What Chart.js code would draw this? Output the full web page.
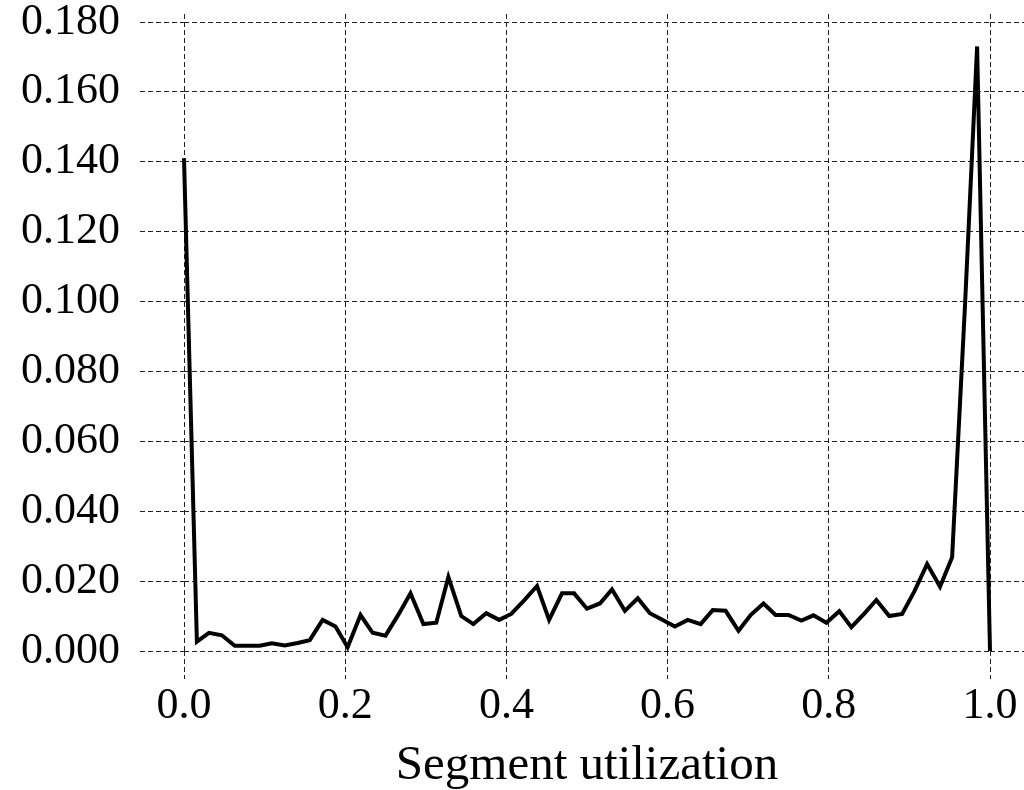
<!DOCTYPE html>
<html>
<head>
<meta charset="utf-8">
<script src="https://cdn.jsdelivr.net/npm/chart.js@4/dist/chart.umd.min.js"></script>
<style>
  html, body { margin: 0; padding: 0; background: #fff; }
  #wrap { width: 1024px; height: 790px; }
</style>
</head>
<body>
<div id="wrap"><canvas id="c" width="1024" height="790"></canvas></div>
<script>
// Bin positions (segment utilization)
const xValues = [
  0.000, 0.016, 0.031, 0.047, 0.063, 0.078, 0.094, 0.109, 0.125, 0.141,
  0.156, 0.172, 0.188, 0.203, 0.219, 0.234, 0.250, 0.266, 0.281, 0.297,
  0.313, 0.328, 0.344, 0.359, 0.375, 0.391, 0.406, 0.422, 0.438, 0.453,
  0.469, 0.484, 0.500, 0.516, 0.531, 0.547, 0.563, 0.578, 0.594, 0.609,
  0.625, 0.641, 0.656, 0.672, 0.688, 0.703, 0.719, 0.734, 0.750, 0.766,
  0.781, 0.797, 0.813, 0.828, 0.844, 0.859, 0.875, 0.891, 0.906, 0.922,
  0.938, 0.953, 0.969, 0.984, 1.000
];
// Fraction of segments
const yValues = [
  0.141, 0.0027, 0.0052, 0.0045, 0.0015, 0.0015, 0.0015, 0.0022, 0.0016, 0.0023,
  0.0031, 0.0089, 0.0070, 0.0011, 0.0103, 0.0052, 0.0044, 0.0104, 0.0165, 0.0077,
  0.0081, 0.0212, 0.0100, 0.0077, 0.0108, 0.0089, 0.0106, 0.0145, 0.0186, 0.0089,
  0.0165, 0.0165, 0.0121, 0.0136, 0.0176, 0.0115, 0.0151, 0.0108, 0.0089, 0.0070,
  0.0089, 0.0077, 0.0117, 0.0115, 0.0058, 0.0103, 0.0136, 0.0103, 0.0103, 0.0087,
  0.0102, 0.0081, 0.0114, 0.0068, 0.0107, 0.0146, 0.0100, 0.0106, 0.0170, 0.0249,
  0.0184, 0.0268, 0.0990, 0.1730, 0.000
];
const xTicks = [0.0, 0.2, 0.4, 0.6, 0.8, 1.0];
const xTickLabels = ['0.0', '0.2', '0.4', '0.6', '0.8', '1.0'];
const yTicks = [0.00, 0.02, 0.04, 0.06, 0.08, 0.10, 0.12, 0.14, 0.16, 0.18];
const yTickLabels = ['0.000', '0.020', '0.040', '0.060', '0.080', '0.100', '0.120', '0.140', '0.160', '0.180'];
const xTitle = 'Segment utilization';

const points = xValues.map((x, i) => ({ x: x, y: yValues[i] }));
const FONT = "'Liberation Serif', 'DejaVu Serif', serif";
const DASH = [5, 3];
const GRID_COLOR = '#222';

function setTicks(values) {
  return function (scale) { scale.ticks = values.map(v => ({ value: v })); };
}
function labelFrom(values, labels) {
  return function (value) {
    const i = values.findIndex(v => Math.abs(v - value) < 1e-9);
    return i >= 0 ? labels[i] : '';
  };
}
function fixSize(prop, size) {
  return function (s) {
    s[prop] = size;
    s.paddingTop = 0; s.paddingBottom = 0; s.paddingLeft = 0; s.paddingRight = 0;
  };
}

new Chart(document.getElementById('c'), {
  type: 'line',
  data: {
    datasets: [{
      data: points,
      borderColor: '#000',
      borderWidth: 4,
      pointRadius: 0,
      tension: 0,
      fill: false,
      clip: false
    }]
  },
  options: {
    responsive: false,
    animation: false,
    layout: { padding: 0, autoPadding: false },
    plugins: { legend: { display: false }, tooltip: { enabled: false } },
    scales: {
      x: {
        type: 'linear',
        position: 'bottom',
        min: 0, max: 1,
        afterBuildTicks: setTicks(xTicks),
        afterFit: fixSize('height', 139),
        border: { display: false, dash: DASH },
        grid: { color: GRID_COLOR, lineWidth: 1, drawTicks: true, tickLength: 28,
                tickColor: GRID_COLOR, tickBorderDash: DASH },
        ticks: { callback: labelFrom(xTicks, xTickLabels), color: '#000', padding: 1,
                 maxRotation: 0, font: { family: FONT, size: 44 } },
        title: { display: true, text: xTitle, color: '#000', padding: { top: 0, bottom: -6 },
                 font: { family: FONT, size: 49 } }
      },
      x2: {
        type: 'linear',
        position: 'top',
        min: 0, max: 1,
        afterBuildTicks: setTicks(xTicks),
        afterFit: fixSize('height', 22),
        border: { display: false, dash: DASH },
        grid: { color: GRID_COLOR, lineWidth: 1, drawOnChartArea: false, drawTicks: true,
                tickLength: 8, tickColor: GRID_COLOR, tickBorderDash: DASH },
        ticks: { display: false }
      },
      y: {
        type: 'linear',
        position: 'left',
        min: 0, max: 0.18,
        afterBuildTicks: setTicks(yTicks),
        afterFit: fixSize('width', 184),
        border: { display: false, dash: DASH },
        grid: { color: GRID_COLOR, lineWidth: 1, drawTicks: true, tickLength: 44,
                tickColor: GRID_COLOR, tickBorderDash: DASH },
        ticks: { callback: labelFrom(yTicks, yTickLabels), color: '#000', padding: 20,
                 font: { family: FONT, size: 44 } }
      },
      y2: {
        type: 'linear',
        position: 'right',
        min: 0, max: 0.18,
        afterBuildTicks: setTicks(yTicks),
        afterFit: fixSize('width', 34),
        border: { display: false, dash: DASH },
        grid: { color: GRID_COLOR, lineWidth: 1, drawOnChartArea: false, drawTicks: true,
                tickLength: 34, tickColor: GRID_COLOR, tickBorderDash: DASH },
        ticks: { display: false }
      }
    }
  }
});
</script>
</body>
</html>
